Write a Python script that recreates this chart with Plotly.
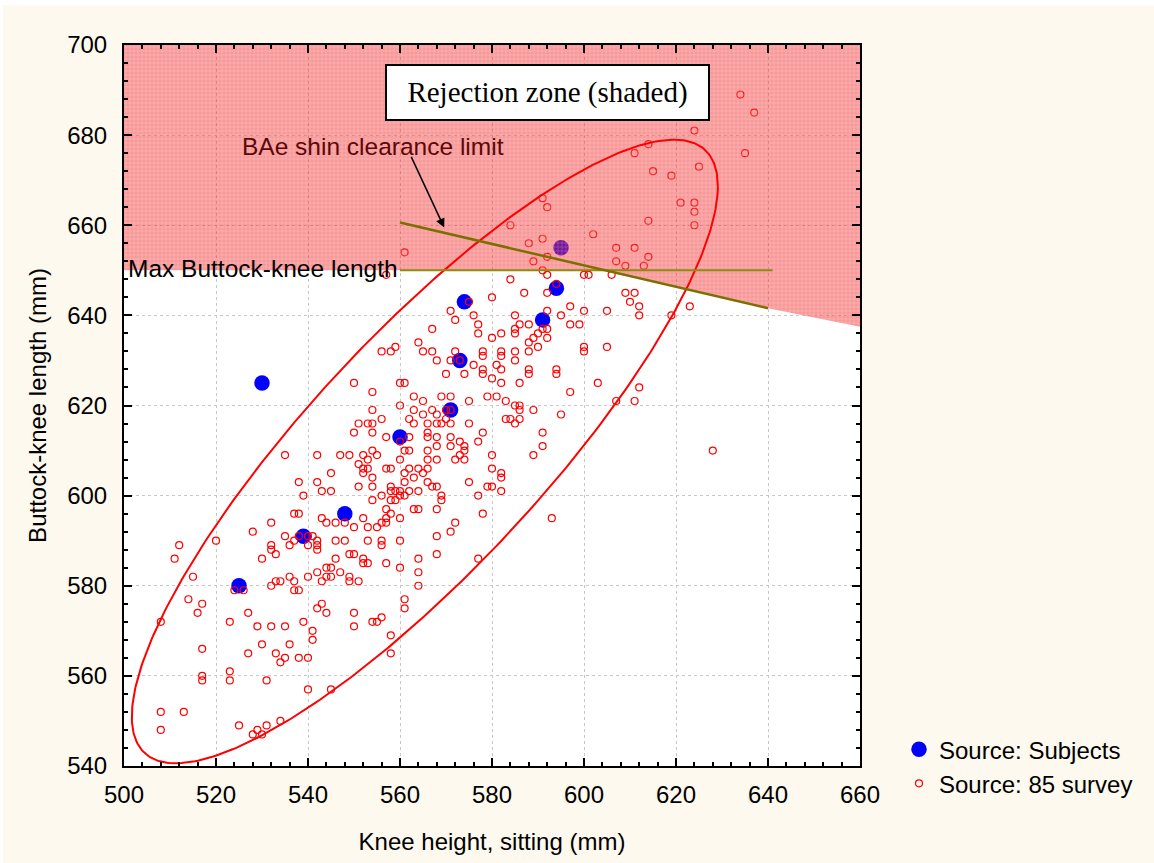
import numpy as np
import plotly.graph_objects as go

# ---------------- data ----------------
subjects_x = [574, 573, 530, 571, 560, 548, 539, 525, 594, 591, 595]
subjects_y = [643, 630, 625, 619, 613, 596, 591, 580, 646, 639, 655]

survey_pts = [
    (575,643),(571,641),(572,639),(576,640),(577,638),(577,636),(580,644),(580,635),(567,637),(564,634),
    (559,633),(556,632),(558,632),(565,632),(567,632),(572,632),(578,632),(578,631),(573,630),(571,630),
    (568,630),(576,629),(578,628),(578,627),(580,626),(570,627),(574,627),(550,625),(560,625),(561,625),
    (554,623),(563,622),(565,621),(569,622),(571,622),(579,622),(575,621),(560,620),(570,619),(571,619),
    (554,619),(563,619),(567,619),(565,618),(568,618),(556,617),(562,617),(570,617),(551,616),(553,616),
    (554,616),(563,616),(566,616),(568,616),(569,616),(571,616),(575,616),(550,614),(554,614),(560,612),
    (557,613),(562,613),(566,614),(566,613),(568,613),(571,613),(578,614),(573,612),(577,612),(574,611),
    (568,611),(571,611),(561,610),(562,610),(566,610),(574,610),(554,610),(535,609),(542,609),(547,609),
    (549,609),(552,609),(555,609),(573,609),(580,609),(553,608),(560,608),(566,608),(568,608),(572,608),
    (574,608),(551,607),(552,606),(553,606),(557,606),(558,606),(562,606),(564,606),(566,606),(580,606),
    (545,605),(552,605),(561,605),(565,605),(554,604),(563,604),(538,603),(542,603),(561,603),(566,603),
    (575,603),(551,602),(554,602),(558,602),(567,602),(568,602),(579,602),(580,602),(539,600),(543,601),
    (545,601),(558,601),(559,601),(560,601),(562,601),(564,601),(556,600),(560,600),(561,600),(569,600),
    (577,600),(554,599),(558,599),(559,599),(569,599),(563,597),(564,597),(568,597),(557,597),(558,596),
    (537,596),(538,596),(578,596),(552,595),(557,595),(560,595),(543,595),(532,594),(544,594),(546,594),
    (548,594),(556,594),(557,594),(572,594),(550,593),(553,593),(555,593),
    (594,647),(584,648),(587,645),(592,645),(609,645),(611,645),(610,643),(612,642),(623,642),(597,642),
    (592,641),(600,641),(605,641),(585,640),(595,640),(612,640),(619,640),(586,638),(588,638),(597,638),
    (599,638),(585,637),(591,637),(592,637),(582,636),(585,636),(590,636),(589,635),(592,635),(588,634),
    (590,633),(600,633),(600,632),(605,633),(582,632),(582,631),(585,632),(588,632),(585,630),(581,629),
    (582,628),(588,628),(588,627),(594,628),(594,627),(582,625),(586,625),(603,625),(612,624),(597,623),
    (581,622),(583,621),(607,621),(611,621),(585,620),(586,620),(586,619),(589,619),(595,618),(583,617),
    (584,617),(586,617),(585,616),(591,614),(591,611),(589,609),(582,605),(582,604),(582,601),(593,595),
    (628,610),
    (528,592),(512,589),(511,586),(520,590),(515,582),(524,579),(526,579),(514,577),(517,576),(516,574),
    (508,572),(538,591),(540,591),(535,591),(541,591),(532,589),(532,588),(533,587),(536,589),(537,590),
    (540,589),(542,590),(542,589),(542,588),(546,590),(548,590),(553,590),(556,590),(556,589),(560,590),
    (530,586),(536,582),(537,581),(534,581),(533,581),(532,580),(537,579),(538,579),(540,582),(542,583),
    (544,584),(545,584),(546,586),(544,582),(545,582),(543,581),(547,583),(549,582),(549,581),(551,581),
    (549,587),(550,587),(552,586),(552,585),(553,585),(557,585),(560,584),(564,586),(564,583),(564,580),
    (568,591),(568,587),(571,592),(577,586),(561,577),(561,575),(556,573),(554,572),(555,572),(550,574),
    (550,571),(558,569),(558,565),(543,576),(542,575),(544,574),(539,572),(541,570),(541,568),(527,574),
    (523,572),(529,571),(532,571),(535,571),(517,566),(530,567),(536,567),(527,565),(533,565),(535,564),
    (534,563),(538,564),(540,564),(517,560),(517,559),(523,561),(523,559),(531,559),(540,557),(545,557),
    (508,552),(513,552),(508,548),(525,549),(528,547),(529,548),(530,547),(531,549),(534,550),
    (561,654),(557,649),
    (634,689),(637,685),(624,681),(614,678),(611,676),(635,676),(625,673),(615,672),(619,671),(591,666),
    (592,664),(621,665),(624,665),(624,663),(624,660),(614,661),(584,660),(602,658),(588,656),(591,657),
    (607,655),(611,655),(589,652),(592,653),(607,652),(614,653),(609,651),(613,651),(591,650),(592,649),
    (600,649),(601,649),(606,649),
]
survey_x = [p[0] for p in survey_pts]
survey_y = [p[1] for p in survey_pts]

# limit lines
max_bk_x = [560, 641]
max_bk_y = [650, 650]
shin_x = [560, 640]
shin_y = [660.6, 641.6]
# rejection zone outline
zone_x = [500, 660, 660, 640, 604.6, 500, 500]
zone_y = [700, 700, 637.5, 641.6, 650, 650, 700]

# confidence ellipse parameters
ell_cx, ell_cy = 565.4, 609.8
ell_sx, ell_sy = 63.7, 69.2
ell_r = 0.85

t = np.linspace(0, 2 * np.pi, 400)
ell_x = ell_cx + ell_sx * np.cos(t)
ell_y = ell_cy + ell_sy * (ell_r * np.cos(t) + np.sqrt(1 - ell_r ** 2) * np.sin(t))

x_ticks = [500, 520, 540, 560, 580, 600, 620, 640, 660]
y_ticks = [540, 560, 580, 600, 620, 640, 660, 680, 700]

SANS = "Liberation Sans, Arial, sans-serif"
SERIF = "Liberation Serif, Times New Roman, serif"
FS = 24

fig = go.Figure()

fig.add_trace(go.Scatter(
    x=subjects_x, y=subjects_y, mode="markers", name="Source: Subjects",
    marker=dict(color="#0000ff", size=15.5, line=dict(width=0)),
))
fig.add_trace(go.Scatter(
    x=survey_x, y=survey_y, mode="markers", name="Source: 85 survey",
    marker=dict(symbol="circle-open", color="#ff0000", size=7, line=dict(width=1.2, color="#ff0000")),
))
fig.add_trace(go.Scatter(
    x=zone_x, y=zone_y, mode="none", fill="toself", showlegend=False, hoverinfo="skip",
    fillcolor="rgba(245,60,60,0.5)",
    fillpattern=dict(shape="+", bgcolor="rgba(240,40,40,0.48)", fgcolor="rgba(255,255,255,0.6)",
                     size=4, solidity=0.3, fillmode="overlay"),
))
fig.add_trace(go.Scatter(
    x=ell_x, y=ell_y, mode="lines", showlegend=False, hoverinfo="skip",
    line=dict(color="#ff0000", width=2),
))
fig.add_trace(go.Scatter(
    x=max_bk_x, y=max_bk_y, mode="lines", showlegend=False, hoverinfo="skip",
    line=dict(color="#8c8c10", width=2),
))
fig.add_trace(go.Scatter(
    x=shin_x, y=shin_y, mode="lines", showlegend=False, hoverinfo="skip",
    line=dict(color="#7a7000", width=2.5),
))

axis_common = dict(
    showline=True, linewidth=2, linecolor="black", mirror="allticks",
    ticks="inside", ticklen=8, tickwidth=2, tickcolor="black",
    showgrid=True, gridcolor="#c8c8c8", griddash="dot", gridwidth=1,
    zeroline=False,
    tickfont=dict(family=SANS, size=FS, color="black"),
    minor=dict(dtick=4, ticks="inside", ticklen=4, tickwidth=1.5, tickcolor="black", showgrid=False),
)

fig.update_xaxes(range=[500, 660], tickvals=x_ticks, ticktext=[str(v) for v in x_ticks],
                 title=dict(text="Knee height, sitting (mm)", font=dict(family=SANS, size=FS, color="black"), standoff=26),
                 ticklabelstandoff=6, **axis_common)
fig.update_yaxes(range=[540, 700], tickvals=y_ticks, ticktext=[str(v) for v in y_ticks],
                 title=dict(text="Buttock-knee length (mm)", font=dict(family=SANS, size=FS, color="black"), standoff=14),
                 ticklabelstandoff=10, **axis_common)

fig.add_annotation(x=592, y=689.4, xref="x", yref="y", text="Rejection zone (shaded)",
                   showarrow=False, font=dict(family=SERIF, size=29, color="black"),
                   bgcolor="white", bordercolor="black", borderwidth=2, borderpad=0,
                   width=321, height=53)
fig.add_annotation(x=554.1, y=677.5, xref="x", yref="y", text="BAe shin clearance limit",
                   showarrow=False, font=dict(family=SANS, size=24.5, color="#5a0808"))
fig.add_annotation(x=569.6, y=659.5, xref="x", yref="y", ax=562.3, ay=675.5, axref="x", ayref="y",
                   text="", showarrow=True, arrowhead=2, arrowsize=1.2, arrowwidth=1.5, arrowcolor="black")
fig.add_annotation(x=560, y=650.5, xref="x", yref="y", xanchor="right", text="Max Buttock-knee length",
                   showarrow=False, font=dict(family=SANS, size=24.5, color="black"))

# thin white strips at the top and left page edges
fig.add_shape(type="rect", xref="paper", yref="paper", x0=-0.3, x1=1.5, y0=1.0552, y1=1.2,
              fillcolor="white", line=dict(width=0), layer="below")
fig.add_shape(type="rect", xref="paper", yref="paper", x0=-0.3, x1=-0.1644, y0=-0.3, y1=1.2,
              fillcolor="white", line=dict(width=0), layer="below")

fig.update_layout(
    width=1154, height=863,
    margin=dict(l=124, r=294, t=45, b=94),
    paper_bgcolor="#fdf9ee", plot_bgcolor="white",
    font=dict(family=SANS, size=FS, color="black"),
    showlegend=True,
    legend=dict(x=1.053, y=0.054, xanchor="left", yanchor="top", bgcolor="rgba(0,0,0,0)",
                font=dict(family=SANS, size=FS, color="black"), itemsizing="trace"),
)

fig.write_html("out.html")
